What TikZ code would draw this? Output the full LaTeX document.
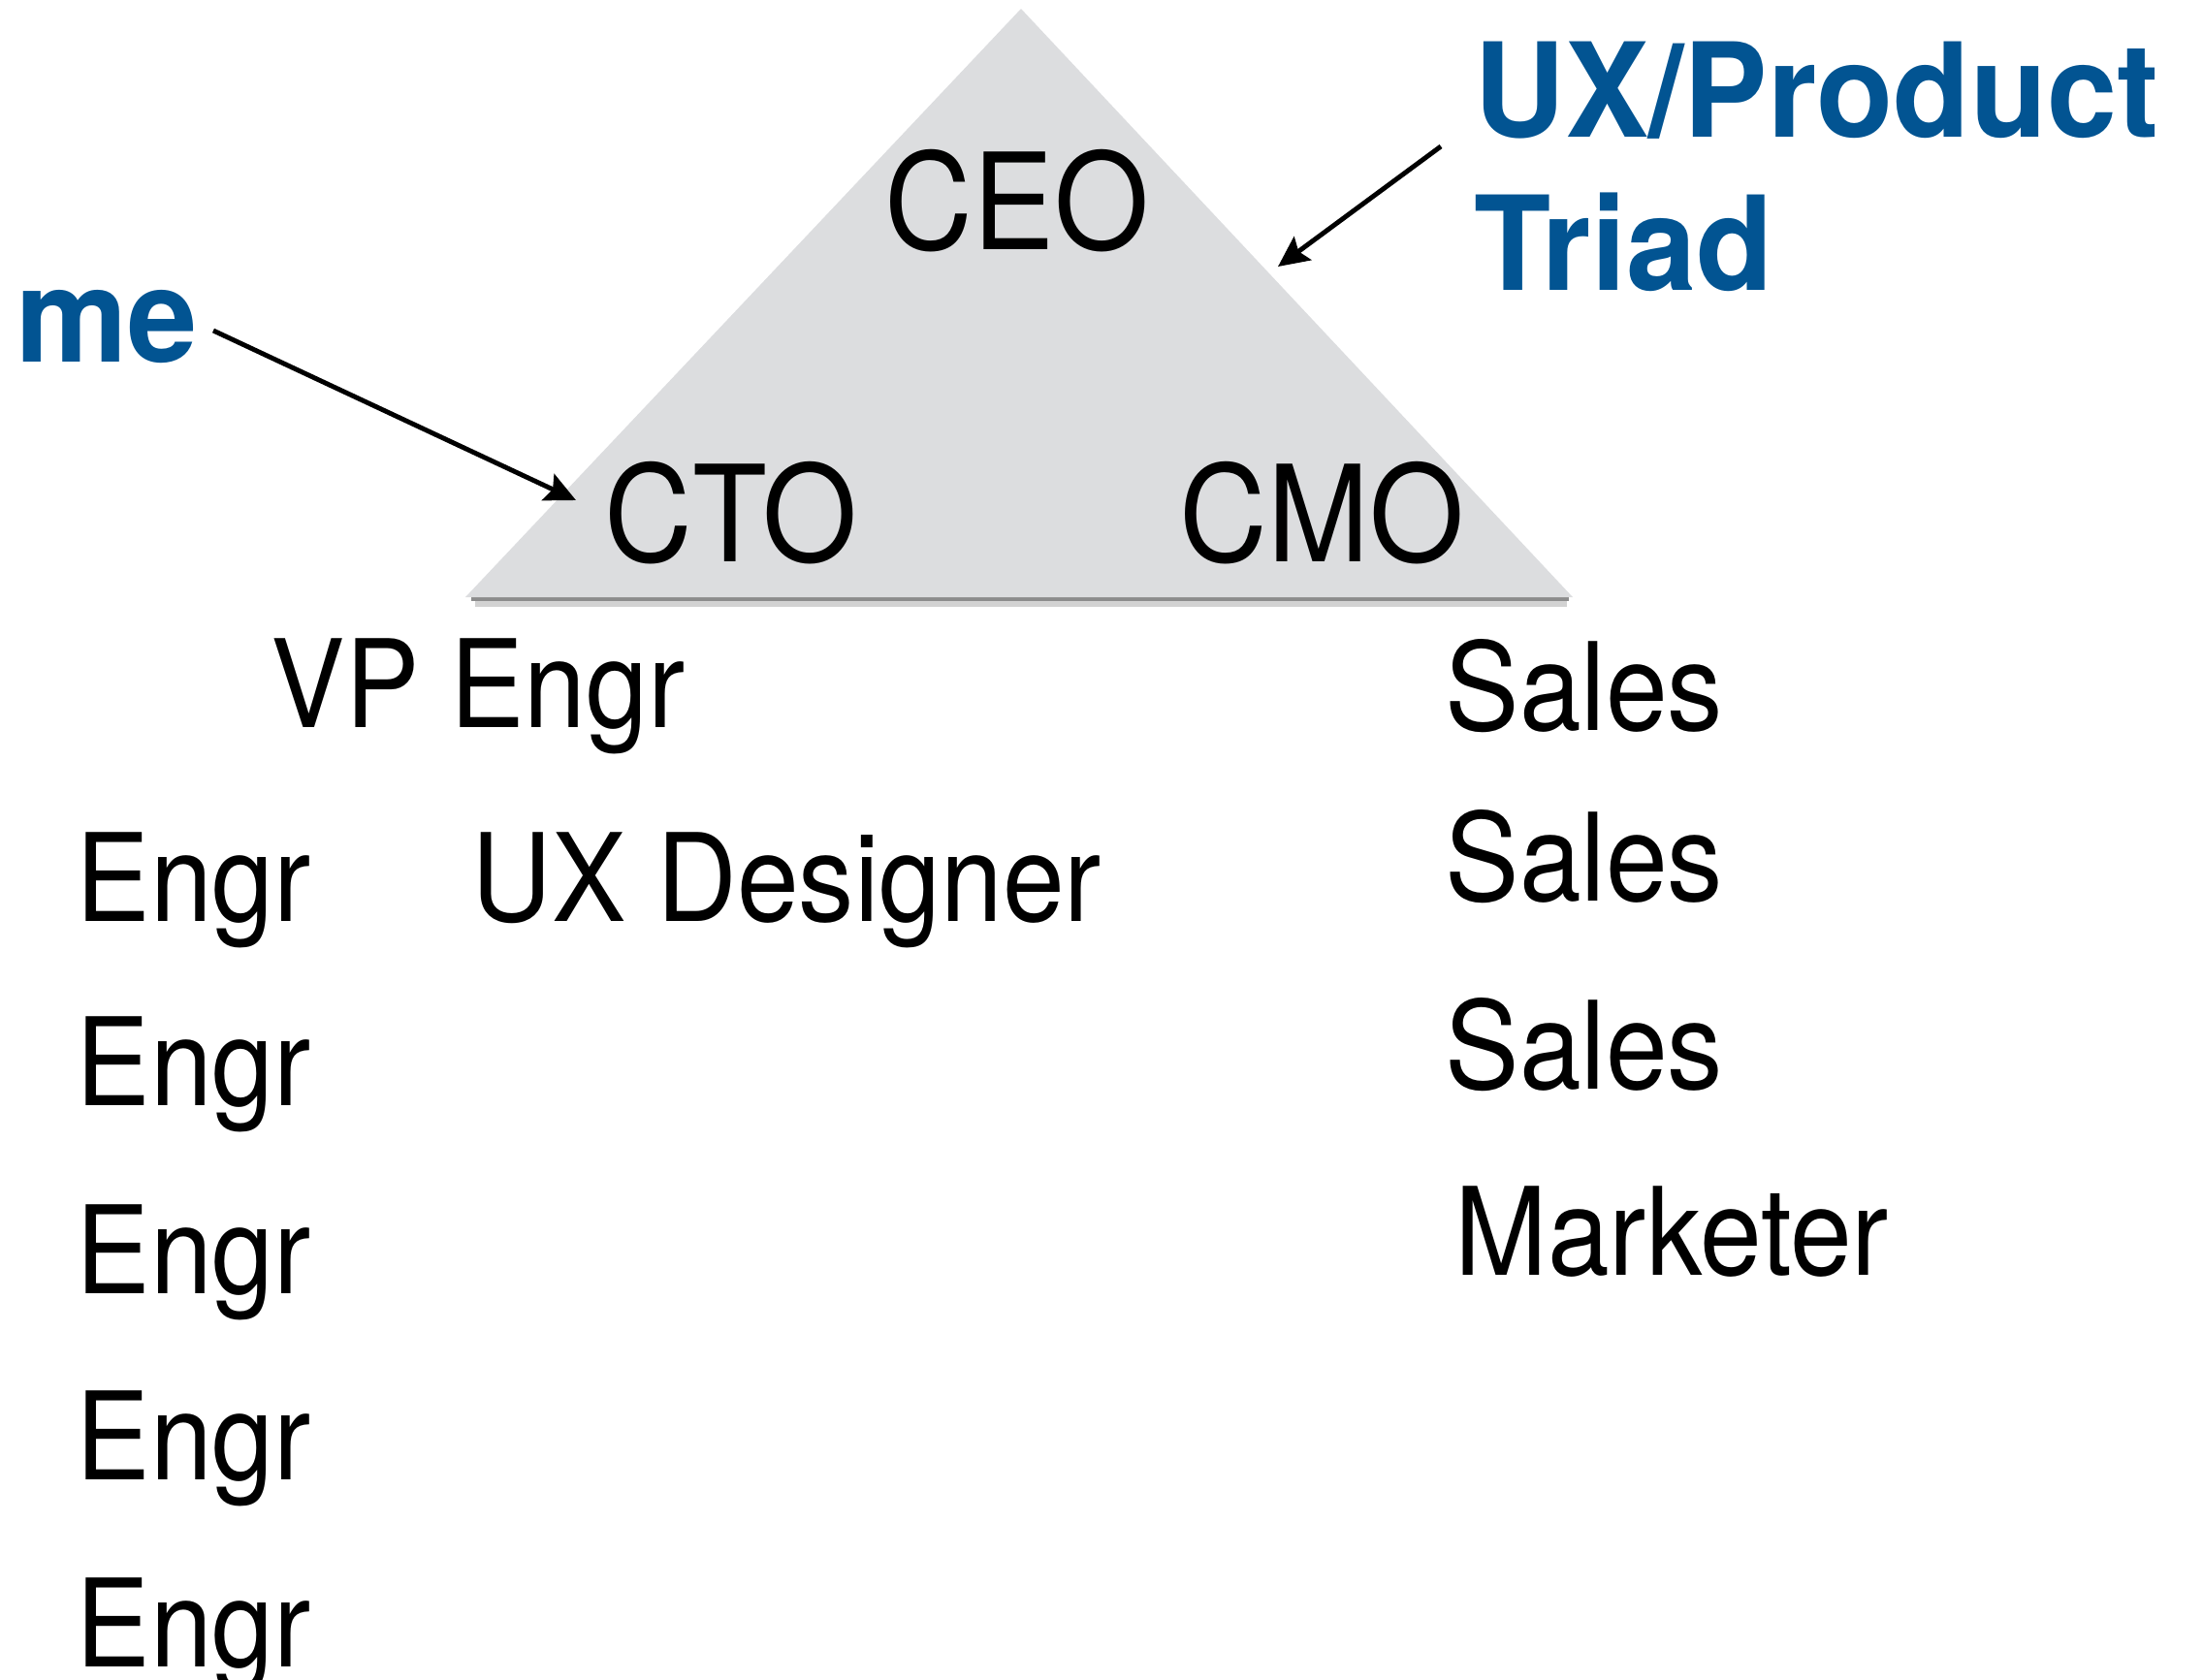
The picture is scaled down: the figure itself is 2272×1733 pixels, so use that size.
\documentclass[tikz,border=0pt]{standalone}
\usepackage{fontspec}
\setmainfont[FakeStretch=0.91]{TeX Gyre Heros}
\newfontfamily\bluefont[FakeStretch=0.96]{TeX Gyre Heros}
\usetikzlibrary{arrows.meta}
\definecolor{triblue}{RGB}{2,84,146}
\definecolor{trifill}{RGB}{220,221,223}
\begin{document}
\begin{tikzpicture}[x=0.01cm,y=-0.01cm,
  top/.style={anchor=base west,inner sep=0pt,font=\fontsize{39.3}{40}\selectfont},
  item/.style={anchor=base west,inner sep=0pt,font=\fontsize{35.8}{37}\selectfont},
  callout/.style={anchor=base west,inner sep=0pt,text=triblue,font=\bluefont\bfseries\fontsize{38.4}{40}\selectfont},
  pointer/.style={line width=1.4pt,-{Stealth[length=9pt,width=8.5pt,inset=1.5pt]}}]
\useasboundingbox (0,0) rectangle (2272,1733);
% shadow + triangle
\draw[line width=2.6pt,black!35,opacity=0.5] (490,621) -- (1616,621);
\draw[line width=1.2pt,black!45] (486,618) -- (1618,618);
\fill[trifill] (1053,9) -- (1622,616) -- (480,616) -- cycle;
% top titles
\node[top] (ceo) at (912,257) {CEO};
\node[top] (cto) at (623,579) {CTO};
\node[top] (cmo) at (1216,579) {CMO};
% lists
\node[item] (vp) at (279,750) {VP Engr};
\node[item] (e1) at (78,950) {Engr};
\node[item] (ux) at (486,950) {UX Designer};
\node[item] (e2) at (78,1140) {Engr};
\node[item] (e3) at (78,1334) {Engr};
\node[item] (e4) at (78,1526) {Engr};
\node[item] (e5) at (78,1719) {Engr};
\node[item] (s1) at (1490,753) {Sales};
\node[item] (s2) at (1490,929) {Sales};
\node[item] (s3) at (1490,1123) {Sales};
\node[item] (mk) at (1500,1315) {Marketer};
% callouts
\node[callout] (me) at (16,373) {me};
\node[callout] (uxp) at (1520,141) {UX/Product};
\node[callout] (triad) at (1520,299) {Triad};
\coordinate (meTail) at (220,341);
\coordinate (meTip) at (594,516);
\coordinate (trTail) at (1486,151);
\coordinate (trTip) at (1318,275);
\draw[pointer] (meTail) -- (meTip);
\draw[pointer] (trTail) -- (trTip);
\end{tikzpicture}
\end{document}
